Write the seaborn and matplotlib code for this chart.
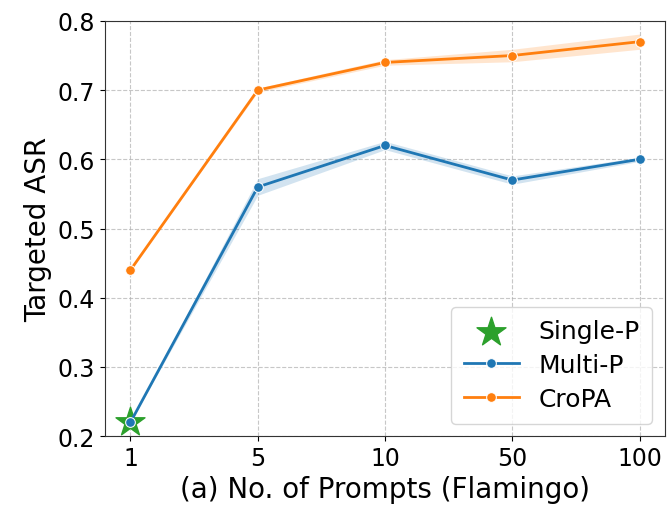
import numpy as np
import pandas as pd
import matplotlib
matplotlib.use("Agg")
import matplotlib.pyplot as plt
import seaborn as sns

# ==============================
# DATA
# ==============================
prompts = ["1", "5", "10", "50", "100"]
multi_p = [0.22, 0.56, 0.62, 0.57, 0.60]
multi_p_err = [0.0, 0.012, 0.006, 0.006, 0.003]
cropa = [0.44, 0.70, 0.74, 0.75, 0.77]
cropa_err = [0.0, 0.003, 0.004, 0.009, 0.011]
single_p = 0.22

pos = np.arange(len(prompts))
df = pd.DataFrame({
    "pos": np.concatenate([pos, pos]),
    "ASR": multi_p + cropa,
    "Method": ["Multi-P"] * len(prompts) + ["CroPA"] * len(prompts),
})

# ==============================
# PLOT
# ==============================
plt.rcParams["font.family"] = ["DejaVu Sans"]
fig, ax = plt.subplots(figsize=(6.69, 5.1), dpi=100)
fig.subplots_adjust(left=0.157, right=0.994, top=0.957, bottom=0.143)

blue, orange, green = "#1f77b4", "#ff7f0e", "#2ca02c"

ax.scatter([0], [single_p], marker="*", s=480, color=green, label="Single-P", zorder=2)
sns.lineplot(data=df, x="pos", y="ASR", hue="Method", palette=[blue, orange],
             marker="o", markersize=7, linewidth=2, errorbar=None, ax=ax, zorder=3)

for vals, err, c in [(multi_p, multi_p_err, blue), (cropa, cropa_err, orange)]:
    v = np.array(vals)
    e = np.array(err)
    ax.fill_between(pos, v - e, v + e, color=c, alpha=0.2, linewidth=0, zorder=2)

ax.set_xticks(pos)
ax.set_xticklabels(prompts)
ax.set_ylim(0.2, 0.8)
ax.set_yticks([0.2, 0.3, 0.4, 0.5, 0.6, 0.7, 0.8])
ax.tick_params(labelsize=17)
ax.grid(True, linestyle="--", color="#b0b0b0", alpha=0.7)
ax.set_axisbelow(True)
for s in ax.spines.values():
    s.set_color("#333333")

ax.set_xlabel("(a) No. of Prompts (Flamingo)", fontsize=20)
ax.set_ylabel("Targeted ASR", fontsize=20)

handles, labels = ax.get_legend_handles_labels()
ax.legend(handles, labels, loc="lower right", fontsize=18, framealpha=0.8,
          borderpad=0.5, labelspacing=0.4, handlelength=2.2)

plt.savefig("out.png", dpi=100)
plt.close()
